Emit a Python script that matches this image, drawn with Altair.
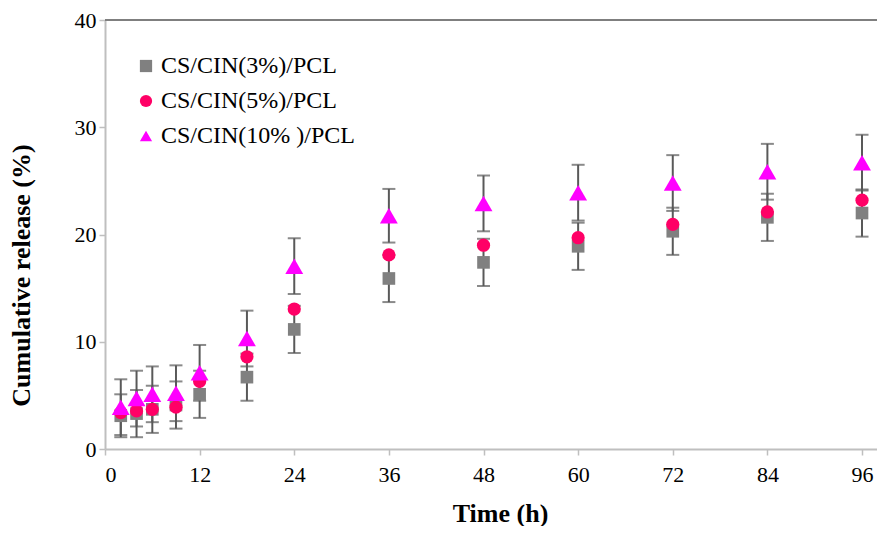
import altair as alt
import pandas as pd

# ---- data ----
time_h = [2, 4, 6, 9, 12, 18, 24, 36, 48, 60, 72, 84, 96]

series_names = ["CS/CIN(3%)/PCL", "CS/CIN(5%)/PCL", "CS/CIN(10% )/PCL"]
series_colors = ["#808080", "#FF0066", "#FF00FF"]
series_shapes = ["square", "circle", "triangle-up"]
series_sizes = [160, 175, 320]

cin3 = [3.1, 3.3, 3.7, 4.1, 5.1, 6.7, 11.15, 15.9, 17.4, 18.9, 20.3, 21.6, 22.0]
cin3_err = [2.0, 2.2, 2.2, 2.2, 2.2, 2.2, 2.2, 2.2, 2.2, 2.2, 2.2, 2.2, 2.2]

cin5 = [3.4, 3.55, 3.7, 3.9, 6.3, 8.6, 13.05, 18.1, 19.0, 19.7, 20.95, 22.1, 23.2]

cin10 = [3.9, 4.7, 5.1, 5.2, 7.1, 10.3, 17.05, 21.75, 22.9, 23.9, 24.8, 25.85, 26.7]
cin10_err = [2.6, 2.6, 2.6, 2.6, 2.6, 2.6, 2.6, 2.5, 2.6, 2.6, 2.6, 2.6, 2.6]

x_ticks = [0, 12, 24, 36, 48, 60, 72, 84, 96]
y_ticks = [0, 10, 20, 30, 40]

# ---- tables ----
pts_rows = []
for k, (name, vals) in enumerate(zip(series_names, [cin3, cin5, cin10])):
    for t, v in zip(time_h, vals):
        pts_rows.append({"time": t, "value": v, "series": name, "k": k})
pts = pd.DataFrame(pts_rows)

err_rows = []
for name, vals, errs in [(series_names[0], cin3, cin3_err), (series_names[2], cin10, cin10_err)]:
    for t, v, e in zip(time_h, vals, errs):
        err_rows.append({"time": t, "lo": v - e, "hi": v + e, "series": name})
errs = pd.DataFrame(err_rows)

W, H = 772, 429
FONT = "'Liberation Serif', 'Times New Roman', Times, serif"

xscale = alt.Scale(domain=[0, 97.9], nice=False, zero=False)
yscale = alt.Scale(domain=[0, 40], nice=False)

xaxis = alt.Axis(values=x_ticks, title="Time (h)", titleX=395, titleY=64,
                 titleBaseline="middle", labelPadding=9, format="d")
yaxis = alt.Axis(values=y_ticks, title="Cumulative release (%)", titleX=-84, titleY=255,
                 titleBaseline="middle", labelPadding=3, format="d")

err_color = "#595959"

bars = alt.Chart(errs).mark_rule(color=err_color, strokeWidth=2).encode(
    x=alt.X("time:Q", scale=xscale, axis=xaxis),
    y=alt.Y("lo:Q", scale=yscale, axis=yaxis),
    y2="hi:Q",
)
cap_hi = alt.Chart(errs).mark_tick(color=err_color, thickness=2, size=13, orient="horizontal").encode(
    x=alt.X("time:Q", scale=xscale), y=alt.Y("hi:Q", scale=yscale)
)
cap_lo = alt.Chart(errs).mark_tick(color=err_color, thickness=2, size=13, orient="horizontal").encode(
    x=alt.X("time:Q", scale=xscale), y=alt.Y("lo:Q", scale=yscale)
)

color_enc = alt.Color("series:N", scale=alt.Scale(domain=series_names, range=series_colors),
                      legend=alt.Legend(title=None))
shape_enc = alt.Shape("series:N", scale=alt.Scale(domain=series_names, range=series_shapes),
                      legend=alt.Legend(title=None))

point_layers = []
for name, sz in zip(series_names, series_sizes):
    point_layers.append(
        alt.Chart(pts).transform_filter(alt.datum.series == name)
        .mark_point(filled=True, opacity=1, strokeWidth=0, size=sz)
        .encode(
            x=alt.X("time:Q", scale=xscale),
            y=alt.Y("value:Q", scale=yscale),
            color=color_enc,
            shape=shape_enc,
        )
    )

top_line = alt.Chart(pd.DataFrame({"y": [40]})).mark_rule(color="#7f7f7f", strokeWidth=2).encode(
    y=alt.Y("y:Q", scale=yscale), x=alt.value(0), x2=alt.value(W)
)

chart = alt.layer(top_line, bars, cap_hi, cap_lo, *point_layers).properties(
    width=W, height=H,
    autosize=alt.AutoSizeParams(type="none"),
    padding={"left": 97, "top": 12, "right": 0, "bottom": 77},
).configure_view(stroke=None).configure_axis(
    grid=False,
    labelFont=FONT, labelFontSize=22, labelColor="black",
    titleFont=FONT, titleFontSize=26, titleFontWeight="bold", titleColor="black",
    domainColor="#bfbfbf", domainWidth=2, tickColor="#bfbfbf", tickWidth=1.5, tickSize=6,
).configure_legend(
    orient="none", legendX=29, legendY=34, padding=0,
    labelFont=FONT, labelFontSize=24, labelColor="black", labelOffset=3, labelLimit=0,
    symbolSize=150, rowPadding=11, symbolStrokeWidth=0,
)

chart.save("out.html", embed_options={"renderer": "svg", "actions": False})
